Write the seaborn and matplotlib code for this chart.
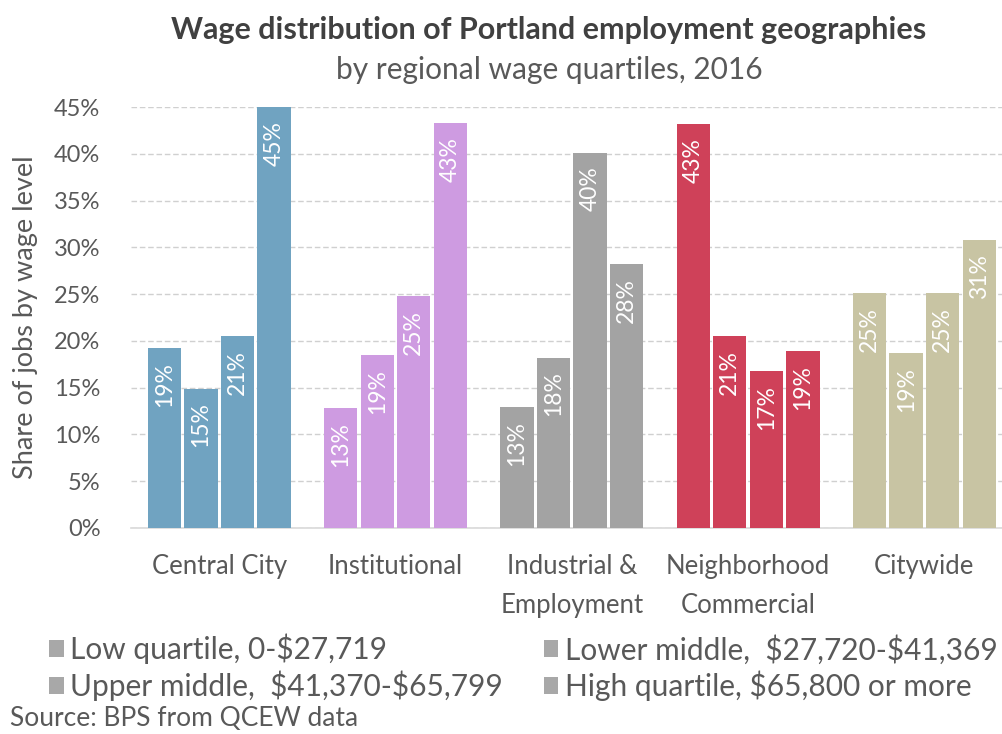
import matplotlib
matplotlib.use('Agg')
import matplotlib.pyplot as plt
import seaborn as sns
import pandas as pd
from matplotlib.patches import Patch

# data
geographies = ['Central City', 'Institutional', 'Industrial &\nEmployment',
               'Neighborhood\nCommercial', 'Citywide']
quartiles = ['Low quartile, 0-\\$27,719',
             'Lower middle,  \\$27,720-\\$41,369',
             'Upper middle,  \\$41,370-\\$65,799',
             'High quartile, \\$65,800 or more']
low_q = [19.2, 12.8, 12.9, 43.2, 25.1]
lower_mid = [14.9, 18.5, 18.2, 20.5, 18.7]
upper_mid = [20.5, 24.8, 40.1, 16.8, 25.1]
high_q = [45.0, 43.3, 28.2, 18.9, 30.8]
geo_colors = ['#70A3C1', '#CE9BE1', '#A3A3A3', '#CF4159', '#C8C4A3']
legend_gray = '#A8A8A8'
text_gray = '#595959'

rows = []
for q, vals in zip(quartiles, [low_q, lower_mid, upper_mid, high_q]):
    for g, v in zip(geographies, vals):
        rows.append({'geo': g, 'quartile': q, 'share': v})
df = pd.DataFrame(rows)

sns.set_theme(style='white')
plt.rcParams['font.family'] = ['Lato', 'DejaVu Sans']

fig = plt.figure(figsize=(10.02, 7.34), dpi=100)
ax = fig.add_axes([131 / 1002, 1 - 528 / 734, 871 / 1002, (528 - 107) / 734])

sns.barplot(data=df, x='geo', y='share', hue='quartile', order=geographies,
            hue_order=quartiles, palette=[legend_gray] * 4, width=0.83, gap=0.09,
            errorbar=None, legend=False, ax=ax, zorder=3, linewidth=0)

# every bar in a geography shares that geography's colour
for container in ax.containers:
    for i, bar in enumerate(container):
        bar.set_facecolor(geo_colors[i])
        h = bar.get_height()
        ax.annotate(f'{int(h + 0.5)}%', (bar.get_x() + bar.get_width() / 2, h),
                    xytext=(0, -10), textcoords='offset points', rotation=90,
                    ha='center', va='top', color='white', fontsize=16.5)

ax.set_ylim(0, 45)
ax.set_xlim(-0.5, 4.44)
ax.set_yticks(range(0, 46, 5))
ax.set_yticklabels([f'{t}%' for t in range(0, 46, 5)])
ax.yaxis.grid(True, color='#D0D0D0', linestyle=(0, (4, 2)), linewidth=1, zorder=0)
ax.xaxis.grid(False)
for s in ['top', 'right', 'left']:
    ax.spines[s].set_visible(False)
ax.spines['bottom'].set_color('#D9D9D9')
ax.spines['bottom'].set_linewidth(1.2)
ax.tick_params(axis='y', length=0, pad=22, labelsize=17, labelcolor=text_gray)
ax.tick_params(axis='x', length=0, pad=19, labelsize=18.5, labelcolor=text_gray)
for lab in ax.get_xticklabels():
    lab.set_linespacing(1.7)
ax.set_xlabel('')
ax.set_ylabel('Share of jobs by wage level', fontsize=19.5, color=text_gray)
ax.yaxis.set_label_coords((38 - 131) / 871, 0.5)

fig.text(0.548, 1 - 30 / 734, 'Wage distribution of Portland employment geographies',
         ha='center', va='center', fontsize=22, fontweight='bold', color='#404040')
fig.text(0.548, 1 - 70 / 734, 'by regional wage quartiles, 2016',
         ha='center', va='center', fontsize=21.5, color=text_gray)

handles = [Patch(facecolor=legend_gray, edgecolor='none') for _ in quartiles]
order = [0, 2, 1, 3]
fig.legend([handles[i] for i in order], [quartiles[i] for i in order],
           loc='upper left', bbox_to_anchor=(49 / 1002, 1 - 634 / 734), ncol=2,
           frameon=False, fontsize=21.5, handlelength=0.5, handleheight=0.5,
           handletextpad=0.22, columnspacing=1.35, labelspacing=0.2,
           labelcolor=text_gray, borderaxespad=0, borderpad=0)

fig.text(10 / 1002, 1 - 719 / 734, 'Source: BPS from QCEW data',
         ha='left', va='center', fontsize=19, color=text_gray)

fig.savefig('out.png', dpi=100)
